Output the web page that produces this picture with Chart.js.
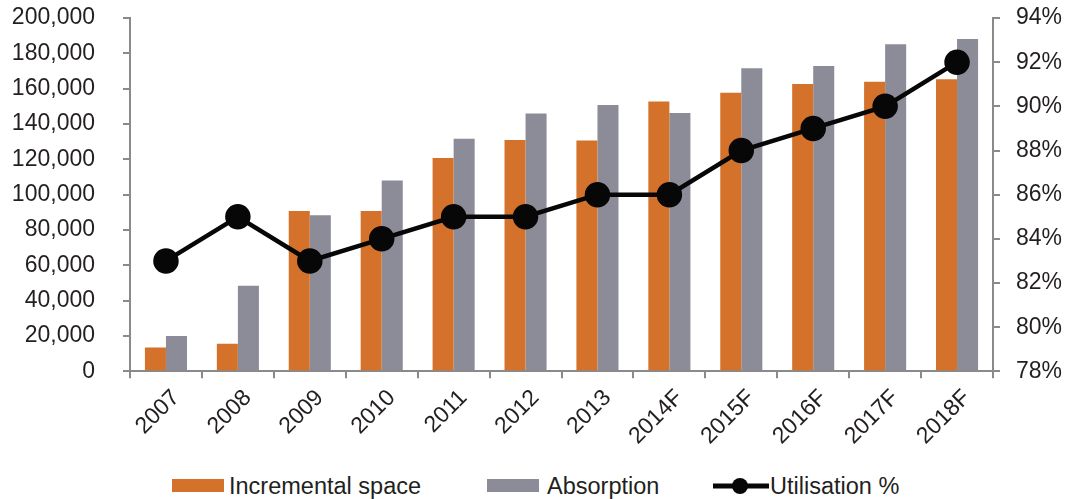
<!DOCTYPE html>
<html>
<head>
<meta charset="utf-8">
<script src="https://cdn.jsdelivr.net/npm/chart.js@4/dist/chart.umd.min.js"></script>
<style>
  body { margin: 0; background: #fff; font-family: "Liberation Sans", Arial, sans-serif; }
  #wrap { position: relative; width: 1071px; height: 456px; }
  #legend { position: absolute; top: 473px; left: 0; width: 1071px; height: 26px; }
  .item { position: absolute; top: 0; font-size: 23.5px; color: #231f20; line-height: 26px; }
  .swatch { position: absolute; top: 6px; width: 52px; height: 13px; }
</style>
</head>
<body>
<div id="wrap"><canvas id="myChart"></canvas></div>
<div id="legend"></div>
<script>
const years = ['2007', '2008', '2009', '2010', '2011', '2012', '2013', '2014F', '2015F', '2016F', '2017F', '2018F'];
const incremental = [13500, 15700, 90700, 90800, 120700, 131000, 130700, 152800, 157700, 162600, 163900, 165300];
const absorption = [20000, 48500, 88400, 108000, 131600, 146000, 150700, 146200, 171500, 172800, 185100, 188100];
const utilisation = [83, 85, 83, 84, 85, 85, 86, 86, 88, 89, 90, 92];

const orange = '#d4722b';
const grey = '#8c8c98';
const axisGrey = '#8a8a8a';
const textColor = '#231f20';

const ctx = document.getElementById('myChart');
ctx.width = 1071;
ctx.height = 456;

// fixed axis widths, and no extra top/bottom padding from the tick padding
function fitAxis(width) {
    return s => {
        s.width = width;
        s.paddingTop = 0;
        s.paddingBottom = 0;
    };
}

new Chart(ctx, {
    type: 'bar',
    data: {
        labels: years,
        datasets: [{
            type: 'line',
            label: 'Utilisation %',
            data: utilisation,
            yAxisID: 'y1',
            borderColor: '#070707',
            backgroundColor: '#070707',
            borderWidth: 4.5,
            pointRadius: 10.5,
            pointHoverRadius: 10.5,
            tension: 0,
            order: 0
        }, {
            label: 'Incremental space',
            data: incremental,
            backgroundColor: orange,
            yAxisID: 'y',
            barPercentage: 1,
            categoryPercentage: 0.585,
            order: 1
        }, {
            label: 'Absorption',
            data: absorption,
            backgroundColor: grey,
            yAxisID: 'y',
            barPercentage: 1,
            categoryPercentage: 0.585,
            order: 1
        }]
    },
    options: {
        responsive: false,
        animation: false,
        layout: { autoPadding: false, padding: { left: 0, right: 0, top: 18, bottom: 0 } },
        plugins: {
            legend: { display: false },
            tooltip: { enabled: false }
        },
        scales: {
            x: {
                grid: { drawOnChartArea: false, drawTicks: true, tickLength: 7, color: axisGrey, lineWidth: 2, offset: true },
                border: { color: axisGrey, width: 2 },
                ticks: {
                    color: textColor,
                    font: { family: 'Liberation Sans', size: 23 },
                    maxRotation: 45,
                    minRotation: 45,
                    labelOffset: 10,
                    padding: 6
                }
            },
            y: {
                position: 'left',
                min: 0,
                max: 200000,
                afterFit: fitAxis(130),
                grid: { drawOnChartArea: false, drawTicks: true, tickLength: 7, color: axisGrey, lineWidth: 2 },
                border: { color: axisGrey, width: 2 },
                ticks: {
                    stepSize: 20000,
                    color: textColor,
                    padding: 28,
                    font: { family: 'Liberation Sans', size: 23 },
                    callback: v => v.toLocaleString('en-US')
                }
            },
            y1: {
                position: 'right',
                min: 78,
                max: 94,
                afterFit: fitAxis(78),
                grid: { drawOnChartArea: false, drawTicks: true, tickLength: 7, color: axisGrey, lineWidth: 2 },
                border: { color: axisGrey, width: 2 },
                ticks: {
                    stepSize: 2,
                    color: textColor,
                    padding: 16,
                    font: { family: 'Liberation Sans', size: 23 },
                    callback: v => v + '%'
                }
            }
        }
    }
});

// legend row under the chart
const legend = document.getElementById('legend');
const items = [
    { text: 'Incremental space', kind: 'box', color: orange, left: 172, gap: 57 },
    { text: 'Absorption', kind: 'box', color: grey, left: 487, gap: 60 },
    { text: 'Utilisation %', kind: 'line', color: '#070707', left: 713, gap: 57 }
];
items.forEach(it => {
    const el = document.createElement('div');
    el.className = 'item';
    el.style.left = it.left + 'px';
    let mark;
    if (it.kind === 'box') {
        mark = '<span class="swatch" style="left:0;background:' + it.color + '"></span>';
    } else {
        mark = '<svg width="56" height="26" style="position:absolute;left:0;top:0">' +
            '<line x1="0" y1="13" x2="56" y2="13" stroke="' + it.color + '" stroke-width="5"/>' +
            '<circle cx="27" cy="13" r="8" fill="' + it.color + '"/></svg>';
    }
    el.innerHTML = mark + '<span style="position:absolute;left:' + it.gap + 'px;white-space:nowrap">' + it.text + '</span>';
    legend.appendChild(el);
});
</script>
</body>
</html>
